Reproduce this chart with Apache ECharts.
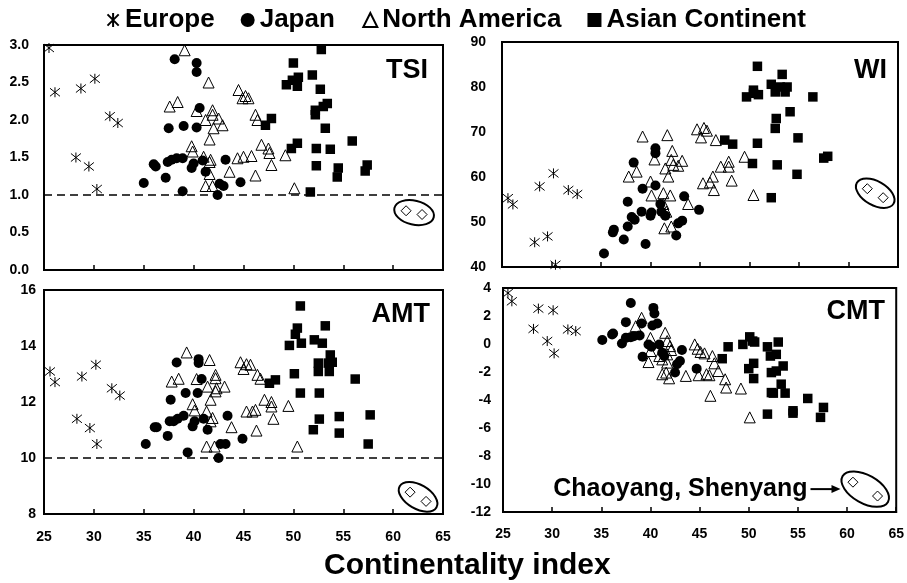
<!DOCTYPE html>
<html>
<head>
<meta charset="utf-8">
<script src="https://cdn.jsdelivr.net/npm/echarts@6/dist/echarts.min.js"></script>
<style>html,body{margin:0;padding:0;background:#fff;}#c{width:907px;height:583px;}</style>
</head>
<body>
<div id="c"></div>
<script>
// ---------------- DATA ----------------
const groupNames = ['Europe', 'Japan', 'North America', 'Asian Continent'];
const outlierName = 'Chaoyang, Shenyang';
const panelNames = ['TSI', 'WI', 'AMT', 'CMT'];
const xTitle = 'Continentality index';

// TSI
const europeTSI = [[25.5,2.96],[26.1,2.37],[28.2,1.50],[28.7,2.42],[29.5,1.38],[30.1,2.55],[30.3,1.08],[31.6,2.05],[32.4,1.96]];
const japanTSI = [[35.0,1.16],[36.0,1.41],[36.2,1.38],[37.2,1.23],[37.4,1.44],[37.5,1.89],[37.8,1.47],[38.1,2.81],[38.3,1.49],[38.9,1.49],[38.9,1.05],[39.0,1.92],[39.8,1.36],[40.0,1.42],[40.3,2.76],[40.3,2.64],[40.3,1.90],[40.6,2.16],[40.9,1.46],[41.2,1.31],[42.4,1.00],[42.6,1.15],[43.0,1.12],[43.2,1.47],[44.7,1.17]];
const naTSI = [[37.6,2.18],[38.4,2.24],[39.1,2.93],[39.8,1.65],[39.9,1.58],[40.3,2.12],[41.0,1.51],[41.2,2.00],[41.2,1.12],[41.5,2.50],[41.6,1.74],[41.6,1.44],[41.7,1.47],[41.6,1.28],[41.9,2.13],[41.9,2.07],[41.9,1.12],[42.0,1.89],[42.5,2.02],[42.9,1.93],[43.6,1.31],[44.4,1.49],[44.5,2.40],[44.9,2.29],[45.2,2.32],[45.5,2.29],[45.0,1.51],[45.8,1.52],[46.2,2.07],[46.4,2.00],[46.2,1.26],[46.8,1.67],[47.5,1.62],[47.6,1.56],[47.8,1.40],[49.2,1.53],[50.1,1.09]];
const asiaTSI = [[47.2,1.93],[47.8,2.02],[49.3,2.47],[49.8,1.62],[49.9,2.53],[50.0,2.76],[50.4,2.45],[50.5,2.57],[50.4,1.69],[51.7,1.04],[51.9,2.60],[52.2,2.13],[52.2,2.07],[52.3,1.62],[52.3,1.39],[52.7,2.41],[52.8,2.94],[53.0,2.18],[53.2,1.89],[53.4,2.22],[53.7,1.61],[54.4,1.24],[54.5,1.36],[55.9,1.72],[57.2,1.32],[57.4,1.40]];
const outlierTSI = [[61.3,0.79],[62.9,0.74]];
const thresholdTSI = 1.0;

// WI
const europeWI = [[25.6,55.3],[26.1,53.9],[28.3,45.5],[28.8,57.9],[29.6,46.8],[30.2,60.8],[30.4,40.5],[31.7,57.1],[32.6,56.2]];
const japanWI = [[35.3,43.0],[36.2,47.7],[36.3,48.3],[37.3,46.1],[37.7,49.0],[37.7,54.5],[38.1,51.1],[38.4,50.5],[38.3,63.2],[39.1,52.3],[39.2,57.4],[39.5,45.1],[40.0,51.4],[40.1,52.1],[40.5,58.1],[40.5,66.4],[40.5,65.3],[41.0,54.0],[41.1,52.3],[41.5,51.4],[42.6,47.0],[42.8,49.7],[43.2,50.3],[43.4,55.7],[44.9,52.7]];
const naWI = [[37.8,60.1],[38.6,61.2],[39.2,69.0],[40.0,59.0],[40.1,55.9],[40.4,63.9],[41.3,56.4],[41.3,54.0],[41.4,48.6],[41.5,61.9],[41.6,52.3],[41.7,69.3],[41.8,60.1],[42.0,55.9],[42.1,49.0],[42.1,63.8],[42.2,65.8],[42.3,62.7],[42.8,62.5],[43.2,63.6],[43.8,54.0],[44.7,70.6],[45.1,68.8],[45.3,58.6],[45.4,70.9],[45.7,70.3],[46.0,58.8],[46.3,60.1],[46.4,57.1],[46.6,68.2],[47.1,62.3],[47.9,63.4],[47.9,62.3],[48.2,59.2],[49.5,64.5],[50.4,56.0]];
const asiaWI = [[47.5,68.2],[48.3,67.3],[49.7,77.8],[50.3,63.0],[50.4,79.3],[50.4,78.6],[50.8,84.6],[50.9,78.3],[50.8,67.5],[52.2,80.6],[52.2,55.4],[52.6,78.9],[52.7,73.0],[52.6,70.8],[52.8,62.7],[53.1,80.0],[53.3,82.8],[53.6,78.9],[53.8,80.0],[54.1,74.5],[54.9,68.7],[54.8,60.6],[56.4,77.8],[57.5,64.2],[57.9,64.6]];
const outlierWI = [[61.9,57.4],[63.5,55.4]];

// AMT
const europeAMT = [[25.6,13.09],[26.1,12.71],[28.3,11.40],[28.8,12.91],[29.6,11.07],[30.2,13.33],[30.3,10.50],[31.8,12.49],[32.6,12.23]];
const japanAMT = [[35.2,10.50],[36.1,11.10],[36.3,11.10],[37.4,10.79],[37.6,11.31],[37.7,12.08],[38.0,11.31],[38.3,13.41],[38.4,11.40],[39.0,11.51],[39.2,12.32],[39.4,10.20],[39.9,11.13],[40.1,11.31],[40.4,12.32],[40.5,13.53],[40.5,13.39],[40.8,12.82],[41.0,11.40],[41.4,11.01],[42.5,10.00],[42.7,10.50],[43.2,10.50],[43.4,11.51],[44.9,10.69]];
const naAMT = [[37.8,12.73],[38.5,12.83],[39.3,13.77],[39.9,11.92],[40.1,11.70],[40.3,12.82],[41.3,11.66],[41.3,10.41],[41.4,12.55],[41.6,13.50],[41.7,12.08],[41.7,11.31],[41.9,11.43],[42.1,10.41],[42.2,12.97],[42.2,12.85],[42.3,12.49],[42.2,12.38],[43.1,12.55],[43.8,11.10],[44.7,13.42],[45.0,13.18],[45.3,13.35],[45.7,13.33],[45.3,11.66],[45.9,11.66],[46.2,11.72],[46.3,10.98],[46.4,12.97],[46.7,12.83],[47.1,12.08],[47.8,12.00],[47.8,11.84],[48.0,11.40],[49.5,11.86],[50.4,10.41]];
const asiaAMT = [[47.6,12.67],[48.2,12.79],[49.6,14.02],[50.1,13.01],[50.2,14.42],[50.4,14.64],[50.7,15.43],[50.8,14.10],[50.7,12.32],[52.0,11.01],[52.1,14.22],[52.5,13.39],[52.5,13.09],[52.6,12.32],[52.6,11.39],[52.9,14.10],[53.2,14.72],[53.5,13.39],[53.6,13.09],[53.7,13.68],[53.9,13.42],[54.6,11.48],[54.6,10.89],[56.2,12.82],[57.5,10.50],[57.7,11.54]];
const outlierAMT = [[61.7,8.78],[63.3,8.45]];
const thresholdAMT = 10;

// CMT
const europeCMT = [[25.5,3.64],[25.9,3.05],[28.1,1.08],[28.6,2.53],[29.5,0.21],[30.1,2.41],[30.2,-0.67],[31.6,1.04],[32.4,0.92]];
const japanCMT = [[35.1,0.28],[36.1,0.68],[36.2,0.75],[37.1,0.04],[37.5,1.56],[37.5,0.44],[38.0,2.93],[38.0,0.49],[38.3,0.56],[38.9,0.61],[39.1,1.46],[39.2,-0.91],[39.8,-0.03],[40.1,-0.20],[40.3,2.58],[40.4,2.18],[40.2,1.32],[40.7,1.46],[40.9,-0.03],[41.2,-0.62],[41.4,-0.86],[42.5,-2.04],[42.7,-1.45],[43.0,-1.21],[43.2,-0.43],[44.7,-1.76]];
const naCMT = [[38.5,1.27],[39.1,1.87],[39.8,-1.29],[40.0,0.44],[40.0,-0.50],[40.9,-0.86],[41.2,-1.10],[41.2,-2.16],[41.5,0.80],[41.6,-2.04],[41.7,0.21],[41.7,-0.74],[41.7,-1.33],[41.9,-2.45],[42.0,-0.15],[42.1,-0.43],[43.6,-2.28],[44.5,-0.03],[44.8,-0.34],[44.9,-2.23],[45.1,-0.57],[45.5,-0.67],[45.7,-2.16],[46.0,-2.23],[46.1,-3.70],[46.3,-0.86],[46.5,-1.38],[46.9,-1.93],[47.6,-2.52],[47.7,-3.11],[49.2,-3.18],[50.1,-5.24]];
const asiaCMT = [[47.3,-1.05],[47.9,-0.20],[49.4,-0.03],[50.0,-1.76],[50.1,0.51],[50.4,0.21],[50.5,-1.38],[50.5,-2.47],[50.6,0.14],[51.9,-0.20],[51.9,-5.01],[52.2,-0.86],[52.3,-2.04],[52.3,-3.47],[52.5,-3.51],[52.8,-0.74],[52.8,-1.93],[53.0,0.14],[53.3,-2.87],[53.5,-1.57],[53.7,-3.51],[54.5,-4.77],[54.5,-4.94],[56.0,-3.89],[57.3,-5.24],[57.6,-4.53]];
const outlierCMT = [[60.6,-9.87],[63.1,-10.86]];

// Axis ranges
const xRange = [25, 65, 5];
const yRanges = [[0, 3, 0.5], [40, 90, 10], [8, 16, 2], [-12, 4, 2]];

// ---------------- CHART ----------------
const FONT = '"Liberation Sans", Arial, Helvetica, sans-serif';
const ASTER = 'path://M1,1L9,9M9,1L1,9M5,0L5,10';

const grids = [
  {left: 44, top: 45, width: 399, height: 225},
  {left: 502, top: 42, width: 396, height: 225},
  {left: 44, top: 290, width: 399, height: 224},
  {left: 503, top: 288, width: 395, height: 224}
].map(g => Object.assign({show: true, borderColor: '#000', borderWidth: 2, backgroundColor: 'transparent'}, g));

const yMargins = [15, 16, 8, 12];
const xMargins = [11, 11, 16, 15];

const xAxes = grids.map((g, i) => ({
  type: 'value', gridIndex: i, min: xRange[0], max: xRange[1], interval: xRange[2],
  axisLine: {show: true, onZero: false, lineStyle: {color: '#000', width: 2}},
  axisTick: {show: true, inside: true, length: 5, lineStyle: {color: '#000', width: 1.5}},
  axisLabel: {show: i >= 2, fontSize: 14, fontWeight: 'bold', color: '#000', fontFamily: FONT, margin: xMargins[i]},
  splitLine: {show: false}
}));

const yAxes = grids.map((g, i) => ({
  type: 'value', gridIndex: i, min: yRanges[i][0], max: yRanges[i][1], interval: yRanges[i][2],
  axisLine: {show: true, onZero: false, lineStyle: {color: '#000', width: 2}},
  axisTick: {show: false},
  axisLabel: {fontSize: 14, fontWeight: 'bold', color: '#000', fontFamily: FONT, margin: yMargins[i],
    formatter: i === 0 ? (v => v.toFixed(1)) : (v => String(v))},
  splitLine: {show: false}
}));

const styles = [
  {symbol: ASTER, symbolSize: 10, itemStyle: {color: 'none', borderColor: '#000', borderWidth: 1, opacity: 1}},
  {symbol: 'circle', symbolSize: 10, itemStyle: {color: '#000', opacity: 1}},
  {symbol: 'triangle', symbolSize: 11, itemStyle: {color: 'none', borderColor: '#000', borderWidth: 1, opacity: 1}},
  {symbol: 'rect', symbolSize: 9.5, itemStyle: {color: '#000', opacity: 1}}
];

function ellipseSeries(gi, pts, note) {
  return {
    type: 'custom', name: outlierName + ' ring', xAxisIndex: gi, yAxisIndex: gi, silent: true, clip: false, z: 3,
    data: [[pts[0][0], pts[0][1], pts[1][0], pts[1][1]]],
    encode: {x: [0, 2], y: [1, 3]},
    renderItem: function (params, api) {
      const a = api.coord([api.value(0), api.value(1)]);
      const b = api.coord([api.value(2), api.value(3)]);
      const cx = (a[0] + b[0]) / 2, cy = (a[1] + b[1]) / 2;
      const dx = b[0] - a[0], dy = b[1] - a[1];
      const ang = Math.atan2(dy, dx);
      const rx = Math.hypot(dx, dy) / 2 + 12, ry = note ? 14 : 12;
      const children = [{
        type: 'ellipse', x: cx, y: cy, rotation: -ang,
        shape: {cx: 0, cy: 0, rx: rx, ry: ry},
        style: {fill: 'none', stroke: '#000', lineWidth: 2}
      }];
      if (note) {
        const halfW = Math.sqrt(rx * rx * Math.cos(ang) ** 2 + ry * ry * Math.sin(ang) ** 2);
        const tip = cx - halfW - 1;
        const start = tip - 30;
        children.push({type: 'line', shape: {x1: start, y1: cy, x2: tip - 6, y2: cy}, style: {stroke: '#000', lineWidth: 2}});
        children.push({type: 'polygon', shape: {points: [[tip, cy], [tip - 9, cy - 4], [tip - 9, cy + 4]]}, style: {fill: '#000'}});
        children.push({type: 'text', x: start - 3, y: cy,
          style: {text: note, fontSize: 25, fontWeight: 'bold', fontFamily: FONT, fill: '#000', align: 'right', verticalAlign: 'middle'}});
      }
      return {type: 'group', children: children};
    }
  };
}

const panels = [
  [europeTSI, japanTSI, naTSI, asiaTSI, outlierTSI, thresholdTSI, null],
  [europeWI, japanWI, naWI, asiaWI, outlierWI, null, null],
  [europeAMT, japanAMT, naAMT, asiaAMT, outlierAMT, thresholdAMT, null],
  [europeCMT, japanCMT, naCMT, asiaCMT, outlierCMT, null, outlierName]
];

const series = [];
panels.forEach((p, gi) => {
  for (let k = 0; k < 4; k++) {
    const s = Object.assign({type: 'scatter', name: groupNames[k], xAxisIndex: gi, yAxisIndex: gi, data: p[k], z: 4}, styles[k]);
    if (k === 0 && p[5] !== null) {
      s.markLine = {silent: true, symbol: 'none', label: {show: false},
        lineStyle: {type: [8, 5], color: '#000', width: 1.5, opacity: 1}, data: [{yAxis: p[5]}], z: 1};
    }
    series.push(s);
  }
  series.push({type: 'scatter', name: outlierName, xAxisIndex: gi, yAxisIndex: gi, data: p[4], z: 4,
    symbol: 'diamond', symbolSize: 10, itemStyle: {color: 'none', borderColor: '#000', borderWidth: 1, opacity: 1}});
  series.push(ellipseSeries(gi, p[4], p[6]));
});

const labelStyle = {fontSize: 27, fontWeight: 'bold', color: '#000', fontFamily: FONT};
const titles = [
  {text: panelNames[0], right: 479, top: 57},
  {text: panelNames[1], right: 20, top: 57},
  {text: panelNames[2], right: 477, top: 301},
  {text: panelNames[3], right: 22, top: 298},
].map(t => Object.assign({padding: 0, textStyle: labelStyle}, t));
titles.push({text: xTitle, left: 324, top: 551, padding: 0,
  textStyle: {fontSize: 30, fontWeight: 'bold', color: '#000', fontFamily: FONT}});

const chart = echarts.init(document.getElementById('c'), null, {renderer: 'canvas'});
chart.setOption({
  animation: false,
  backgroundColor: '#fff',
  title: titles,
  legend: {
    left: 105, top: 7, padding: 0, itemWidth: 14, itemHeight: 14, itemGap: 26,
    textStyle: {fontSize: 26, fontWeight: 'bold', color: '#000', fontFamily: FONT},
    data: groupNames
  },
  grid: grids,
  xAxis: xAxes,
  yAxis: yAxes,
  series: series
});
</script>
</body>
</html>
